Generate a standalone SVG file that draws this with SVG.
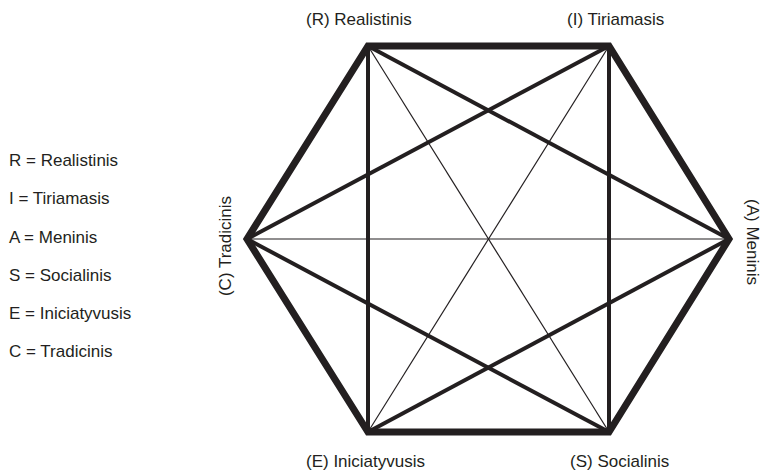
<svg xmlns="http://www.w3.org/2000/svg" width="761" height="472" viewBox="0 0 761 472">
<style>
text{font-family:"Liberation Sans",Arial,sans-serif;font-size:17px;fill:#231f20}
.hex{fill:none;stroke:#231f20;stroke-width:7;stroke-linejoin:miter}
.thick{stroke:#231f20;stroke-width:4}
.thin{stroke:#231f20;stroke-width:1.2}
</style>
<rect width="761" height="472" fill="#fff"/>
<g id="connectors">
<line class="thin" x1="368" y1="46" x2="609" y2="432"/>
<line class="thin" x1="609" y1="46" x2="368" y2="432"/>
<line class="thin" x1="247" y1="239" x2="729" y2="239"/>
<line class="thick" x1="368" y1="46" x2="368" y2="432"/>
<line class="thick" x1="609" y1="46" x2="609" y2="432"/>
<line class="thick" x1="368" y1="46" x2="729" y2="239"/>
<line class="thick" x1="609" y1="46" x2="247" y2="239"/>
<line class="thick" x1="247" y1="239" x2="609" y2="432"/>
<line class="thick" x1="729" y1="239" x2="368" y2="432"/>
<polygon class="hex" points="368,46 609,46 729,239 609,432 368,432 247,239"/>
</g>
<g id="node-R"><text x="306" y="25">(R) Realistinis</text></g>
<g id="node-I"><text x="567" y="25">(I) Tiriamasis</text></g>
<g id="node-A"><text transform="translate(747,242) rotate(90)" text-anchor="middle">(A) Meninis</text></g>
<g id="node-S"><text x="570" y="467">(S) Socialinis</text></g>
<g id="node-E"><text x="306" y="467">(E) Iniciatyvusis</text></g>
<g id="node-C"><text transform="translate(231,246) rotate(-90)" text-anchor="middle">(C) Tradicinis</text></g>
<g id="legend">
<text x="9" y="166">R = Realistinis</text>
<text x="9" y="204">I = Tiriamasis</text>
<text x="9" y="243">A = Meninis</text>
<text x="9" y="281">S = Socialinis</text>
<text x="9" y="319">E = Iniciatyvusis</text>
<text x="9" y="357">C = Tradicinis</text>
</g>
</svg>
